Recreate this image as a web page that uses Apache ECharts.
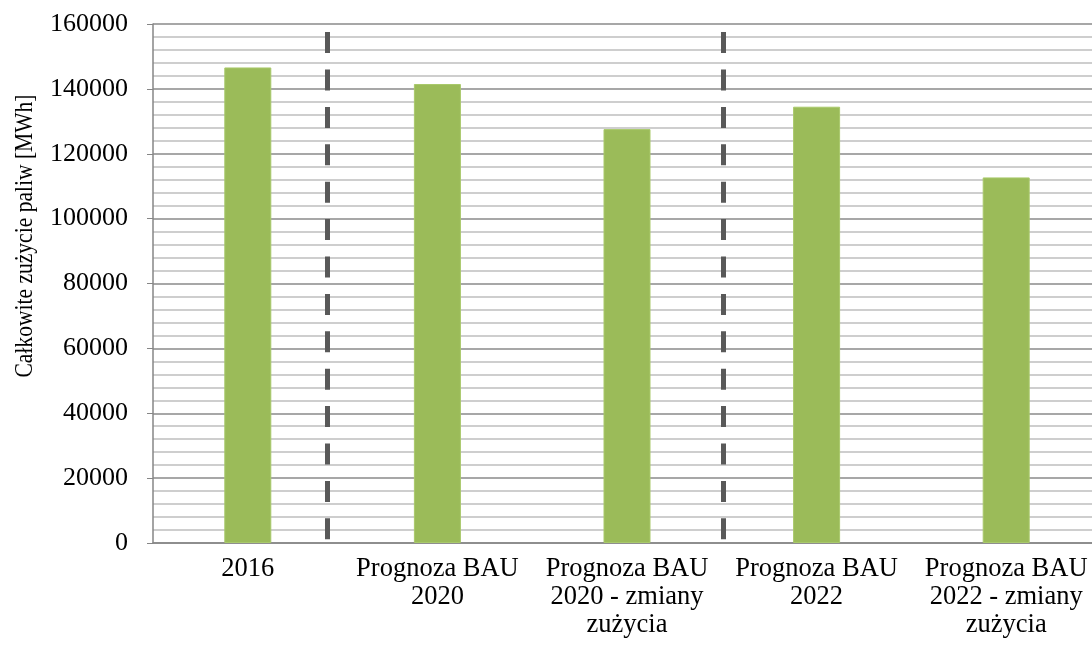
<!DOCTYPE html>
<html>
<head>
<meta charset="utf-8">
<script src="https://cdn.jsdelivr.net/npm/echarts@6/dist/echarts.min.js"></script>
<style>
  html, body { margin: 0; padding: 0; background: #fff; overflow: hidden; }
  #chart { width: 1110px; height: 649px; }
</style>
</head>
<body>
<div id="chart"></div>
<script>
// kategorie i wartosci
const categories = [
  '2016',
  'Prognoza BAU\n2020',
  'Prognoza BAU\n2020 - zmiany\nzużycia',
  'Prognoza BAU\n2022',
  'Prognoza BAU\n2022 - zmiany\nzużycia'
]
const values = [146600, 141500, 127600, 134500, 112700]
// pozycje przerywanych linii (w jednostkach kategorii, 0..5)
const dividers = [0.92, 3.01]

const font = 'Liberation Serif, Times New Roman, serif'
const chart = echarts.init(document.getElementById('chart'))

const option = {
  animation: false,
  grid: {
    left: 153,
    top: 24,
    width: 948,
    height: 519,
    containLabel: false
  },
  xAxis: [{
    type: 'category',
    data: categories,
    axisLine: { lineStyle: { color: '#868686', width: 1.5 } },
    axisTick: { show: false },
    axisLabel: {
      color: '#000',
      fontFamily: font,
      fontSize: 26.5,
      lineHeight: 28,
      margin: 12,
      interval: 0
    }
  }, {
    type: 'value',
    min: 0,
    max: 5,
    show: false
  }],
  yAxis: {
    type: 'value',
    min: 0,
    max: 160000,
    interval: 20000,
    axisLine: { show: true, lineStyle: { color: '#868686', width: 1.5 } },
    axisTick: { show: true, length: 6, lineStyle: { color: '#868686' } },
    axisLabel: {
      color: '#000',
      fontFamily: font,
      fontSize: 26,
      margin: 25,
      formatter: v => String(v)
    },
    splitLine: { lineStyle: { color: '#8a8a8a', width: 1.5 } },
    minorTick: { show: false, splitNumber: 5 },
    minorSplitLine: { show: true, lineStyle: { color: '#bfbfbf', width: 1.5 } }
  },
  graphic: [{
    type: 'text',
    x: 25,
    y: 236,
    rotation: Math.PI / 2,
    scaleX: 0.845,
    style: {
      text: 'Całkowite zużycie paliw [MWh]',
      font: '25.5px ' + font,
      fill: '#000',
      align: 'center',
      verticalAlign: 'middle'
    }
  }],
  series: [{
    type: 'bar',
    data: values,
    barWidth: 47,
    itemStyle: { color: '#9bbb59', borderColor: '#a9c96b', borderWidth: 1 },
    z: 3
  }, {
    type: 'line',
    xAxisIndex: 1,
    data: [],
    markLine: {
      silent: true,
      symbol: ['none', 'none'],
      label: { show: false },
      lineStyle: {
        color: '#595959',
        width: 5,
        type: [21, 16.4],
        dashOffset: 33.7
      },
      data: dividers.map(v => ({ xAxis: v }))
    }
  }]
}
chart.setOption(option)
</script>
</body>
</html>
